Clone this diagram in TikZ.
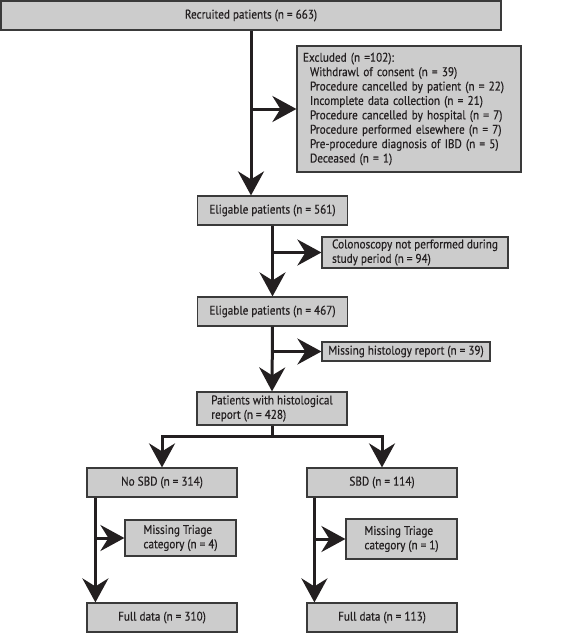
\documentclass[tikz,border=0pt]{standalone}
\usepackage{fontspec}
\setmainfont{PT Sans}[FakeStretch=0.89,FakeBold=0.4]
\usetikzlibrary{arrows.meta}
\definecolor{ln}{HTML}{231F20}
\definecolor{bx}{HTML}{CCCCCC}
\definecolor{bd}{HTML}{3A3A3A}
\begin{document}
\begin{tikzpicture}[x=1pt,y=-1pt,
  box/.style={draw=bd,line width=1.2pt,fill=bx,inner sep=0pt,text=ln,font=\fontsize{12.6}{14.4}\selectfont,align=center},
  arr/.style={draw=ln,line width=3pt,-{Stealth[length=24pt,width=26pt,inset=8pt]}},
  ln/.style={draw=ln,line width=3pt}]
\useasboundingbox (0,0) rectangle (567,634);
\node[box,minimum width=500pt,minimum height=29pt] (rec) at (251,15.5) {Recruited patients (n = 663)};
\node[box,minimum width=224pt,minimum height=126pt,text width=212pt,align=left] (exc) at (409,109)
 {Excluded (n =102):\\
 \hspace*{7pt}Withdrawl of consent (n = 39)\\
 \hspace*{7pt}Procedure cancelled by patient (n = 22)\\
 \hspace*{7pt}Incomplete data collection (n = 21)\\
 \hspace*{7pt}Procedure cancelled by hospital (n = 7)\\
 \hspace*{7pt}Procedure performed elsewhere (n = 7)\\
 \hspace*{7pt}Pre-procedure diagnosis of IBD (n = 5)\\
 \hspace*{7pt}Deceased (n = 1)};
\node[box,minimum width=150pt,minimum height=29pt] (el1) at (272.5,210.5) {Eligable patients (n = 561)};
\node[box,minimum width=186pt,minimum height=31pt,align=left] (col) at (415,252.5) {Colonoscopy not performed during\\study period (n = 94)};
\node[box,minimum width=150pt,minimum height=29pt] (el2) at (272.5,311.5) {Eligable patients (n = 467)};
\node[box,minimum width=168pt,minimum height=19pt] (mh) at (406,351.5) {Missing histology report (n = 39)};
\node[box,minimum width=150pt,minimum height=33pt,align=left] (pat) at (272,408.5) {Patients with histological\\report (n = 428)};
\node[box,minimum width=150pt,minimum height=29pt] (nosbd) at (162,482.5) {No SBD (n = 314)};
\node[box,minimum width=150pt,minimum height=29pt] (sbd) at (382,482.5) {SBD (n = 114)};
\node[box,minimum width=111pt,minimum height=36pt,align=left] (mt1) at (180.5,538) {Missing Triage\\category (n = 4)};
\node[box,minimum width=111pt,minimum height=40pt,align=left] (mt2) at (401.5,539) {Missing Triage\\category (n = 1)};
\node[box,minimum width=150pt,minimum height=29pt] (full1) at (162,617.5) {Full data (n = 310)};
\node[box,minimum width=150pt,minimum height=29pt] (full2) at (382,617.5) {Full data (n = 113)};
\coordinate (split) at (272,436);
\path[arr] (rec.south) -- (rec.south |- el1.north);
\path[arr] (rec.south |- exc.west) -- (exc.west);
\path[arr] (el1.south) -- (el2.north);
\path[arr] (el1.south |- col.west) -- (col.west);
\path[arr] (el2.south) -- (pat.north);
\path[arr] (el2.south |- mh.west) -- (mh.west);
\path[ln] (pat.south) -- (split);
\path[arr] (split) -| (nosbd.north);
\path[arr] (split) -| (sbd.north);
\path[arr] ([xshift=9pt]nosbd.south west) -- ([xshift=9pt]full1.north west);
\path[arr] ([xshift=9pt]nosbd.south west |- mt1.west) -- (mt1.west);
\path[arr] ([xshift=8pt]sbd.south west) -- ([xshift=8pt]full2.north west);
\path[arr] ([xshift=8pt]sbd.south west |- mt2.west) -- (mt2.west);
\end{tikzpicture}
\end{document}
